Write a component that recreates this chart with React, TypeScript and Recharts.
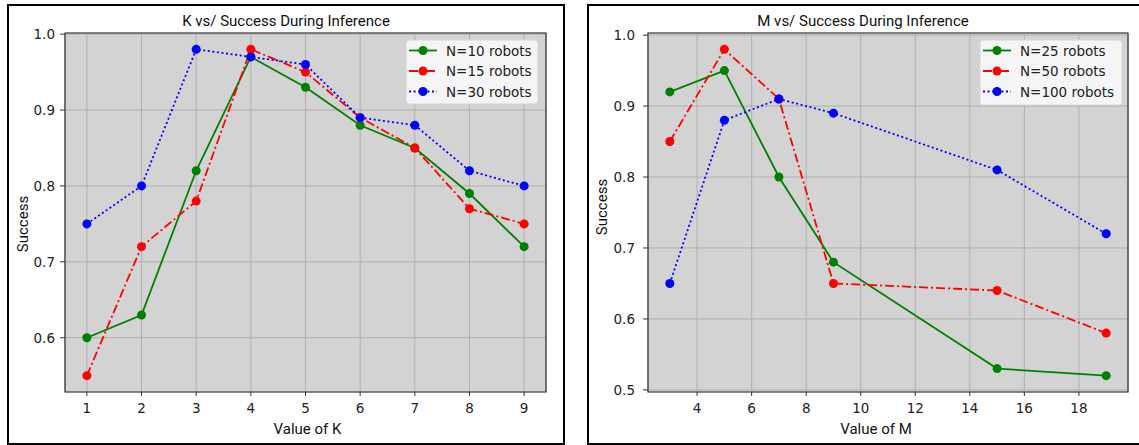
import React from 'react';
import { LineChart, Line, XAxis, YAxis, CartesianGrid, ReferenceArea } from 'recharts';

// ---------- data ----------
const K_VALUES = [1, 2, 3, 4, 5, 6, 7, 8, 9];
const K_N10 = [0.6, 0.63, 0.82, 0.97, 0.93, 0.88, 0.85, 0.79, 0.72];
const K_N15 = [0.55, 0.72, 0.78, 0.98, 0.95, 0.89, 0.85, 0.77, 0.75];
const K_N30 = [0.75, 0.8, 0.98, 0.97, 0.96, 0.89, 0.88, 0.82, 0.8];
const K_X_TICKS = [1, 2, 3, 4, 5, 6, 7, 8, 9];
const K_Y_TICKS = [0.6, 0.7, 0.8, 0.9, 1.0];

const M_VALUES = [3, 5, 7, 9, 15, 19];
const M_N25 = [0.92, 0.95, 0.8, 0.68, 0.53, 0.52];
const M_N50 = [0.85, 0.98, 0.91, 0.65, 0.64, 0.58];
const M_N100 = [0.65, 0.88, 0.91, 0.89, 0.81, 0.72];
const M_X_TICKS = [4, 6, 8, 10, 12, 14, 16, 18];
const M_Y_TICKS = [0.5, 0.6, 0.7, 0.8, 0.9, 1.0];

const K_LABELS = ['N=10 robots', 'N=15 robots', 'N=30 robots'];
const M_LABELS = ['N=25 robots', 'N=50 robots', 'N=100 robots'];

// ---------- styles ----------
const GREEN = '#008000';
const RED = '#ff0000';
const BLUE = '#0000ff';
const DASHDOT = '9 3 2 3';
const DOTTED = '2 2.6';
const STYLES = [
  { color: GREEN, dash: undefined as string | undefined },
  { color: RED, dash: DASHDOT },
  { color: BLUE, dash: DOTTED },
];

const kData = K_VALUES.map((k, i) => ({ x: k, s0: K_N10[i], s1: K_N15[i], s2: K_N30[i] }));
const mData = M_VALUES.map((m, i) => ({ x: m, s0: M_N25[i], s1: M_N50[i], s2: M_N100[i] }));

const TICK_FONT = { fontFamily: 'DejaVu Sans', fontSize: 13.5, fill: '#222' };
const LABEL_FONT = 'Roboto';

type PanelProps = {
  data: any[];
  xDomain: [number, number];
  yDomain: [number, number];
  xTicks: number[];
  yTicks: number[];
  width: number;
  height: number;
  margin: { top: number; right: number; bottom: number; left: number };
  yTickMargin: number;
};

function Panel({ data, xDomain, yDomain, xTicks, yTicks, width, height, margin, yTickMargin }: PanelProps) {
  return (
    <LineChart width={width} height={height} data={data} margin={margin}>
      <CartesianGrid fill="#d3d3d3" stroke="#b0b0b0" strokeWidth={1} />
      <XAxis
        type="number"
        dataKey="x"
        domain={xDomain}
        ticks={xTicks}
        allowDataOverflow
        height={30}
        axisLine={false}
        tickLine={{ stroke: '#333' }}
        tickSize={4}
        tickMargin={7}
        tick={TICK_FONT}
        interval={0}
      />
      <YAxis
        type="number"
        domain={yDomain}
        ticks={yTicks}
        allowDataOverflow
        width={50}
        axisLine={false}
        tickLine={{ stroke: '#333' }}
        tickSize={5}
        tickMargin={yTickMargin}
        tick={TICK_FONT}
        tickFormatter={(v: number) => v.toFixed(1)}
        interval={0}
      />
      {STYLES.map((s, i) => (
        <Line
          key={i}
          type="linear"
          dataKey={`s${i}`}
          stroke={s.color}
          strokeWidth={1.8}
          strokeDasharray={s.dash}
          dot={{ r: 4.5, fill: s.color, stroke: s.color, strokeWidth: 0 }}
          activeDot={false}
          isAnimationActive={false}
        />
      ))}
      <ReferenceArea
        x1={xDomain[0]}
        x2={xDomain[1]}
        y1={yDomain[0]}
        y2={yDomain[1]}
        fill="none"
        stroke="#333"
        strokeWidth={1.2}
        ifOverflow="visible"
      />
    </LineChart>
  );
}

function LegendBox({ x, y, w, h, labels }: { x: number; y: number; w: number; h: number; labels: string[] }) {
  const rows = [10.5, 31, 51.5];
  return (
    <g>
      <rect x={x} y={y} width={w} height={h} rx={3} fill="#f5f5f5" stroke="#d6d6d6" strokeWidth={1} />
      {labels.map((lab, i) => {
        const cy = y + rows[i];
        const s = STYLES[i];
        return (
          <g key={i}>
            <line x1={x + 3} x2={x + 31} y1={cy} y2={cy} stroke={s.color} strokeWidth={1.8} strokeDasharray={s.dash} />
            <circle cx={x + 17} cy={cy} r={4.5} fill={s.color} />
            <text x={x + 40} y={cy + 5} fontFamily="DejaVu Sans" fontSize={13.5} fill="#222">
              {lab}
            </text>
          </g>
        );
      })}
    </g>
  );
}

export default function App() {
  return (
    <div style={{ position: 'absolute', left: 0, top: 0, width: 1139, height: 445, background: '#fff', overflow: 'hidden' }}>
      <div style={{ position: 'absolute', left: 7, top: 4, width: 558, height: 441, border: '2px solid #000', boxSizing: 'border-box' }} />
      <div style={{ position: 'absolute', left: 587, top: 4, width: 560, height: 441, border: '2px solid #000', boxSizing: 'border-box' }} />
      <div style={{ position: 'absolute', left: 0, top: 0 }}>
        <Panel
          data={kData}
          xDomain={[0.6, 9.4]}
          yDomain={[0.5285, 1.0015]}
          xTicks={K_X_TICKS}
          yTicks={K_Y_TICKS}
          width={570}
          height={445}
          margin={{ top: 33, right: 24, bottom: 23, left: 15 }}
          yTickMargin={5}
        />
      </div>
      <div style={{ position: 'absolute', left: 580, top: 0 }}>
        <Panel
          data={mData}
          xDomain={[2.2, 19.8]}
          yDomain={[0.497, 1.003]}
          xTicks={M_X_TICKS}
          yTicks={M_Y_TICKS}
          width={559}
          height={445}
          margin={{ top: 33, right: 11, bottom: 23, left: 18 }}
          yTickMargin={8}
        />
      </div>
      <svg width={1139} height={445} style={{ position: 'absolute', left: 0, top: 0, pointerEvents: 'none' }}>
        <text x={286} y={26} textAnchor="middle" fontFamily={LABEL_FONT} fontSize={15} fill="#111">
          K vs/ Success During Inference
        </text>
        <text x={863} y={26} textAnchor="middle" fontFamily={LABEL_FONT} fontSize={15} fill="#111">
          M vs/ Success During Inference
        </text>
        <text x={307.5} y={433.5} textAnchor="middle" fontFamily={LABEL_FONT} fontSize={15} fill="#111">
          Value of K
        </text>
        <text x={876} y={433.5} textAnchor="middle" fontFamily={LABEL_FONT} fontSize={15} fill="#111">
          Value of M
        </text>
        <text x={27.5} y={224} transform="rotate(-90 27.5 224)" textAnchor="middle" fontFamily={LABEL_FONT} fontSize={15} fill="#111">
          Success
        </text>
        <text x={607} y={207} transform="rotate(-90 607 207)" textAnchor="middle" fontFamily={LABEL_FONT} fontSize={15} fill="#111">
          Success
        </text>
        <LegendBox x={406} y={40} w={132} h={64} labels={K_LABELS} />
        <LegendBox x={980} y={40} w={142} h={65} labels={M_LABELS} />
      </svg>
    </div>
  );
}
